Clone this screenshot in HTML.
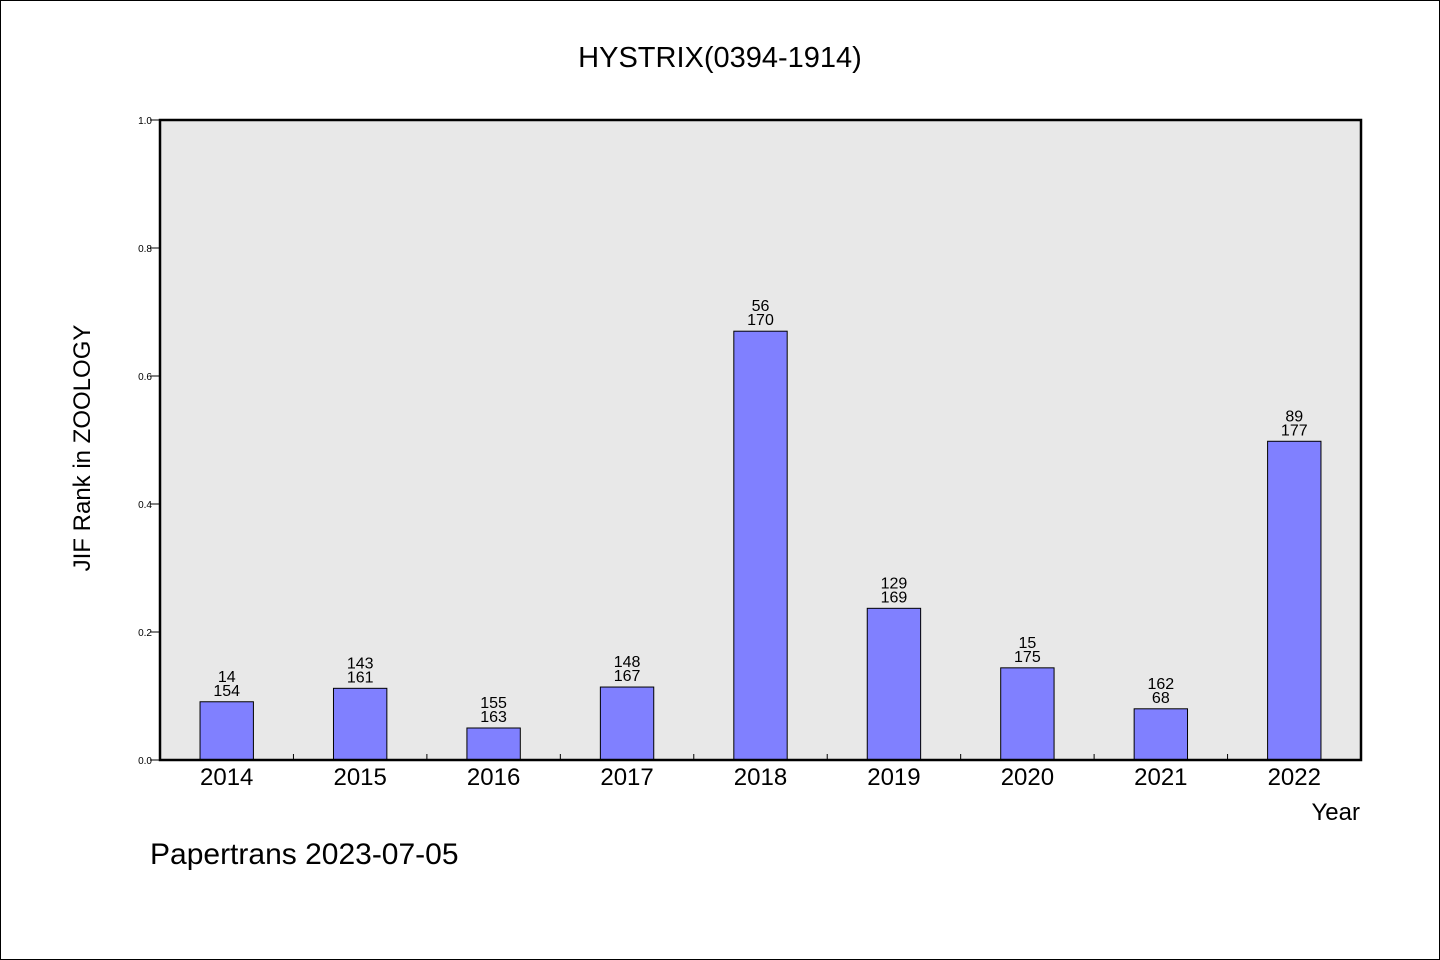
<!DOCTYPE html>
<html><head><meta charset="utf-8"><style>
html,body{margin:0;padding:0;background:#fff;}
svg{display:block;font-family:"WenQuanYi Zen Hei","Liberation Sans",sans-serif;}
</style></head><body>
<svg id="chart" width="1440" height="960">
<rect x="0.5" y="0.5" width="1439" height="959" fill="#fff" stroke="#000"/>
<text x="720" y="67" text-anchor="middle" font-size="29">HYSTRIX(0394-1914)</text>
<rect x="160" y="120" width="1201" height="640" fill="#e8e8e8"/>
<g id="bars"></g>
<g id="axes"></g>
<rect x="160" y="120" width="1201" height="640" fill="none" stroke="#000" stroke-width="2.5"/>
<text x="90" y="448" text-anchor="middle" font-size="24" transform="rotate(-90 90 448)">JIF Rank in ZOOLOGY</text>
<text x="1360" y="820" text-anchor="end" font-size="24">Year</text>
<text x="150" y="864" font-size="30">Papertrans 2023-07-05</text>
</svg>
<script>
const categories=["2014","2015","2016","2017","2018","2019","2020","2021","2022"];
const values=[0.091,0.112,0.05,0.114,0.67,0.237,0.144,0.08,0.498];
const labelTop=["14","143","155","148","56","129","15","162","89"];
const labelBottom=["154","161","163","167","170","169","175","68","177"];
const yTicks=[0,0.2,0.4,0.6,0.8,1.0];
const yTickLabels=["0.0","0.2","0.4","0.6","0.8","1.0"];
const NS="http://www.w3.org/2000/svg";
const X0=160,X1=1361,Y0=760,Y1=120;
const step=(X1-X0)/categories.length;
const xc=i=>X0+(i+0.5)*step;
const y=v=>Y0-(Y0-Y1)*v;
function mk(tag,attrs,parent,txt){const e=document.createElementNS(NS,tag);for(const k in attrs)e.setAttribute(k,attrs[k]);if(txt!==undefined)e.textContent=txt;parent.appendChild(e);return e;}
const bars=document.getElementById('bars'),axes=document.getElementById('axes');
const bw=step*0.4;
categories.forEach((c,i)=>{
 const b=mk('rect',{x:xc(i)-bw/2,y:y(values[i]),width:bw,height:Y0-y(values[i]),fill:'#8080ff',stroke:'#000','stroke-width':1},bars);
 
 
 const t1=mk('text',{x:xc(i),y:y(values[i])-20,'text-anchor':'middle','font-size':16},bars,labelTop[i]);
 
 
 const t2=mk('text',{x:xc(i),y:y(values[i])-6,'text-anchor':'middle','font-size':16},bars,labelBottom[i]);
 
 
 const xl=mk('text',{x:xc(i),y:785,'text-anchor':'middle','font-size':24},axes,c);
 
 
 if(i>0){const tk=mk('line',{x1:X0+i*step,x2:X0+i*step,y1:Y0,y2:Y0-6,stroke:'#000'},axes);
 
 }
});
yTicks.forEach((v,i)=>{
 const tk=mk('line',{x1:X0-10,x2:X0,y1:y(v),y2:y(v),stroke:'#000'},axes);
 
 
 const tl=mk('text',{x:X0-8,y:y(v)+4,'text-anchor':'end','font-size':10},axes,yTickLabels[i]);
 
 
});
</script>
</body></html>
